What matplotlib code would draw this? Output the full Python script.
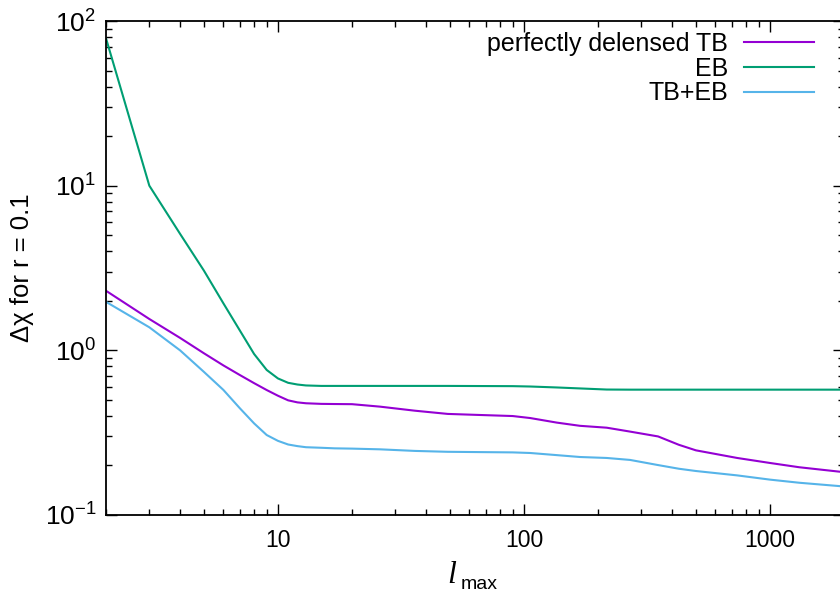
import matplotlib
matplotlib.use("Agg")
import matplotlib.pyplot as plt
from matplotlib.ticker import LogLocator, FixedLocator, FixedFormatter, NullFormatter

plt.rcParams['font.family'] = ['Liberation Sans', 'DejaVu Sans']
plt.rcParams['mathtext.fontset'] = 'custom'
plt.rcParams['mathtext.rm'] = 'Liberation Sans'
plt.rcParams['mathtext.it'] = 'Liberation Sans:italic'

# ---- data ----
ell = [2, 3, 4, 5, 6, 7, 8, 9, 10, 11, 12, 13, 15, 17, 20, 26, 36, 49, 66, 90,
       106, 136, 169, 217, 270, 351, 426, 500, 736, 1000, 1315, 2000]

tb_delensed = [2.30, 1.55, 1.19, 0.96, 0.81, 0.708, 0.632, 0.574, 0.53, 0.497, 0.483,
               0.477, 0.473, 0.472, 0.471, 0.455, 0.430, 0.411, 0.405, 0.399,
               0.388, 0.364, 0.348, 0.339, 0.321, 0.300, 0.267, 0.247, 0.222,
               0.207, 0.195, 0.182]

eb = [78.5, 10.0, 5.1, 3.05, 1.93, 1.32, 0.95, 0.76, 0.675, 0.635, 0.62,
      0.612, 0.608, 0.608, 0.608, 0.608, 0.608, 0.608, 0.607, 0.606,
      0.603, 0.595, 0.587, 0.578, 0.577, 0.577, 0.577, 0.577, 0.577,
      0.577, 0.577, 0.577]

tb_eb = [1.97, 1.38, 1.0, 0.74, 0.575, 0.445, 0.36, 0.306, 0.282, 0.268, 0.262,
         0.258, 0.256, 0.254, 0.253, 0.2505, 0.245, 0.242, 0.241, 0.240,
         0.238, 0.231, 0.225, 0.222, 0.216, 0.201, 0.191, 0.185, 0.174,
         0.164, 0.157, 0.149]

labels = ['perfectly delensed TB', 'EB', 'TB+EB']
colors = ['#9400D3', '#009E73', '#56B4E9']
xticks = [10, 100, 1000]
xticklabels = ['10', '100', '1000']

# ---- figure ----
W, H = 840, 597
fig = plt.figure(figsize=(W / 100, H / 100), dpi=100)
ax = fig.add_axes([106 / W, (H - 515) / H, 738 / W, 494 / H])

for y, lab, c in zip([tb_delensed, eb, tb_eb], labels, colors):
    ax.plot(ell, y, color=c, lw=1.5, label=lab)

ax.set_xscale('log')
ax.set_yscale('log')
ax.set_xlim(2, 2000)
ax.set_ylim(0.1, 100)

ax.xaxis.set_major_locator(FixedLocator(xticks))
ax.xaxis.set_major_formatter(FixedFormatter(xticklabels))
ax.xaxis.set_minor_locator(LogLocator(base=10, subs=range(2, 10), numticks=20))
ax.xaxis.set_minor_formatter(NullFormatter())
ax.yaxis.set_major_locator(LogLocator(base=10, numticks=10))
ax.yaxis.set_minor_locator(LogLocator(base=10, subs=range(2, 10), numticks=20))
ax.yaxis.set_minor_formatter(NullFormatter())

ax.tick_params(which='both', direction='in', top=True, right=True, colors='black')
ax.tick_params(which='major', length=8, width=1.0)
ax.tick_params(which='minor', length=4, width=1.0)
ax.tick_params(axis='x', which='major', pad=10, labelsize=16.5)
ax.tick_params(axis='y', which='major', pad=7, labelsize=19)

for s in ax.spines.values():
    s.set_linewidth(1.3)

ax.set_ylabel('Δχ for r = 0.1', fontsize=18.5)
ax.yaxis.set_label_coords(-0.097, 0.5)

# x label: italic l with "max" subscript
fig.text(447 / W, (H - 583) / H, 'l', family='Liberation Serif', style='italic',
         fontsize=23, ha='left', va='baseline')
fig.text(461 / W, (H - 589) / H, 'max', fontsize=14, ha='left', va='baseline')

leg = ax.legend(loc='upper right', bbox_to_anchor=(814 / W, (H - 32) / H),
                bbox_transform=fig.transFigure, frameon=False, markerfirst=False,
                fontsize=18, handlelength=2.8, handletextpad=0.64,
                labelspacing=0.03, borderpad=0, borderaxespad=0)

fig.savefig('out.png', dpi=100)
